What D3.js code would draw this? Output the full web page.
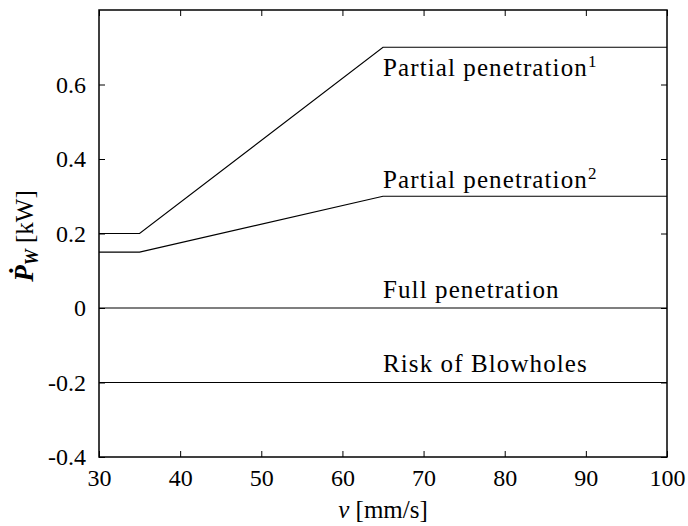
<!DOCTYPE html>
<html>
<head>
<meta charset="utf-8">
<script src="https://cdn.jsdelivr.net/npm/d3@7"></script>
<style>
  body { margin: 0; background: #fff; }
  svg text { font-family: "Liberation Serif", "Times New Roman", serif !important; fill: #000; }
</style>
</head>
<body>
<div id="body"></div>
<script>
// data
var speeds = [30, 35, 65, 100];
var partial1 = [0.2, 0.2, 0.7, 0.7];
var partial2 = [0.15, 0.15, 0.3, 0.3];
var full = [0, 0, 0, 0];
var blowholes = [-0.2, -0.2, -0.2, -0.2];

var xTicks = [30, 40, 50, 60, 70, 80, 90, 100];
var yTicks = [-0.4, -0.2, 0, 0.2, 0.4, 0.6];

var labelText = ["Partial penetration", "Partial penetration", "Full penetration", "Risk of Blowholes"];
var labelSup = ["1", "2", "", ""];
var labelX = [65, 65, 65, 65];
var labelY = [0.624, 0.323, 0.027, -0.173];

var svgWidth = 688;
var svgHeight = 526;

var margin = {
    top: 10,
    right: 21,
    bottom: 69,
    left: 99
};

var width = svgWidth - margin.left - margin.right;
var height = svgHeight - margin.top - margin.bottom;

var svg = d3.select("#body")
    .append("svg")
    .attr("width", svgWidth)
    .attr("height", svgHeight)
    .attr("font-family", "Liberation Serif");

var chart = svg.append("g")
    .attr("transform", `translate(${margin.left}, ${margin.top})`);

var x = d3.scaleLinear().domain([30, 100]).range([0, width]);
var y = d3.scaleLinear().domain([-0.4, 0.8]).range([height, 0]);

// plain hyphen for negatives, like the original
var fmt = function(d) { return d === 0 ? "0" : d.toFixed(1); };

// axes, ticks pointing in
function styleAxis(g) {
    g.attr("font-family", "Liberation Serif").attr("font-size", 24);
    g.select(".domain").remove();
    g.selectAll(".tick line").attr("stroke", "#000").attr("stroke-width", 1);
}

chart.append("g")
    .attr("transform", `translate(0, ${height})`)
    .call(d3.axisBottom(x).tickValues(xTicks).tickSize(-6).tickPadding(12))
    .call(styleAxis)
    .selectAll("text").attr("dy", "0.71em");

chart.append("g")
    .call(d3.axisTop(x).tickValues(xTicks).tickSize(-6).tickFormat(""))
    .call(styleAxis);

chart.append("g")
    .call(d3.axisLeft(y).tickValues(yTicks).tickSize(-6).tickPadding(13).tickFormat(fmt))
    .call(styleAxis);

chart.append("g")
    .attr("transform", `translate(${width}, 0)`)
    .call(d3.axisRight(y).tickValues(yTicks).tickSize(-6).tickFormat(""))
    .call(styleAxis);

chart.append("rect")
    .attr("width", width)
    .attr("height", height)
    .attr("fill", "none")
    .attr("stroke", "#000")
    .attr("stroke-width", 1.5);

// lines
var line = d3.line()
    .x(function(d, i) { return x(speeds[i]); })
    .y(function(d) { return y(d); });

[partial1, partial2, full, blowholes].forEach(function(series) {
    chart.append("path")
        .datum(series)
        .attr("d", line)
        .attr("fill", "none")
        .attr("stroke", "#000")
        .attr("stroke-width", 1.2);
});

// labels
labelText.forEach(function(t, i) {
    var txt = chart.append("text")
        .attr("x", x(labelX[i]))
        .attr("y", y(labelY[i]))
        .attr("font-size", 25)
        .attr("letter-spacing", 1.1)
        .text(t);
    if (labelSup[i]) {
        txt.append("tspan")
            .attr("dy", "-9")
            .attr("font-size", 17)
            .text(labelSup[i]);
    }
});

// axis titles
var xt = svg.append("text")
    .attr("x", margin.left + x(65))
    .attr("y", 518)
    .attr("text-anchor", "middle")
    .attr("font-size", 25);
xt.append("tspan").attr("font-style", "italic").text("v");
xt.append("tspan").text(" [mm/s]");

var yt = svg.append("text")
    .attr("transform", "translate(33, 236) rotate(-90)")
    .attr("text-anchor", "middle")
    .attr("font-size", 25);
yt.append("tspan").attr("font-style", "italic").attr("font-weight", "bold").attr("font-size", 27).text("P\u0307");
yt.append("tspan").attr("font-style", "italic").attr("font-weight", "bold").attr("font-size", 18).attr("dy", 5).text("W");
yt.append("tspan").attr("dy", -5).text(" [kW]");
</script>
</body>
</html>
